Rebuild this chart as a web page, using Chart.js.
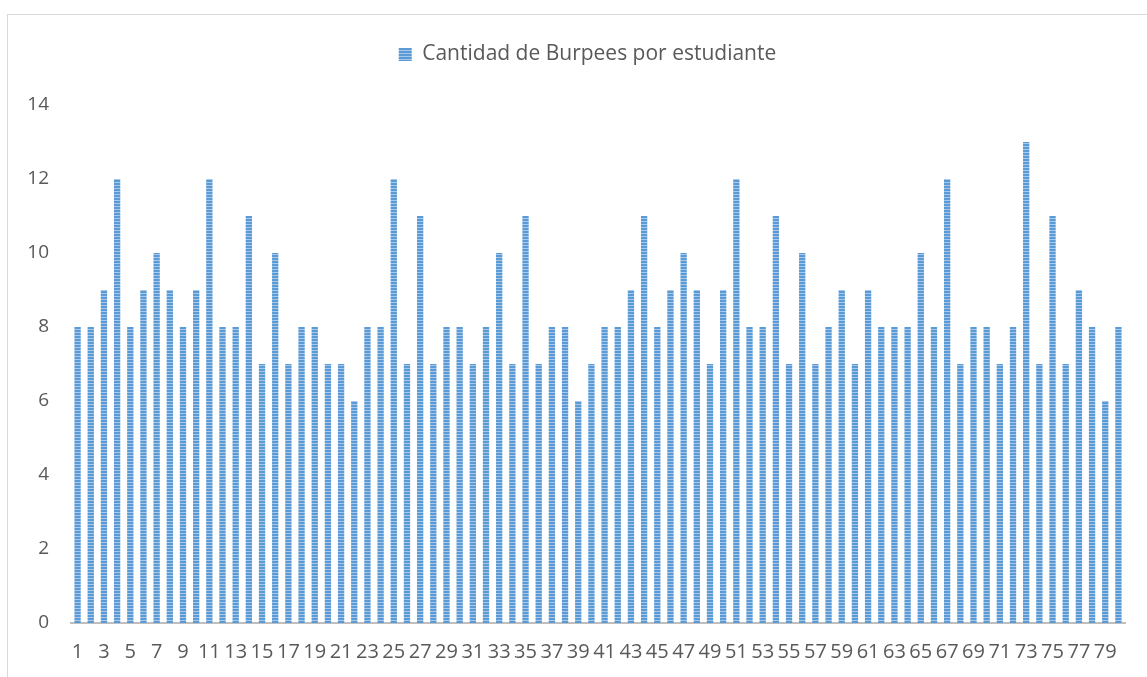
<!DOCTYPE html>
<html>
<head>
<meta charset="utf-8">
<script src="https://cdn.jsdelivr.net/npm/chart.js@4/dist/chart.umd.min.js"></script>
<style>
  html, body { margin: 0; padding: 0; background: #fff; }
  #wrap { position: absolute; left: 0; top: 0; width: 1147px; height: 677px; }
  #frame { position: absolute; left: 7px; top: 14px; width: 1145px; height: 680px; border: 1px solid #d9d9d9; box-sizing: border-box; }
  canvas { position: absolute; left: 0; top: 0; }
</style>
</head>
<body>
<div id="wrap">
  <div id="frame"></div>
  <canvas id="chart" width="1147" height="677"></canvas>
</div>
<script>
// students 1..80
var students = [];
for (var i = 1; i <= 80; i++) { students.push(String(i)); }

var burpees = [
  8, 8, 9, 12, 8, 9, 10, 9, 8, 9,
  12, 8, 8, 11, 7, 10, 7, 8, 8, 7,
  7, 6, 8, 8, 12, 7, 11, 7, 8, 8,
  7, 8, 10, 7, 11, 7, 8, 8, 6, 7,
  8, 8, 9, 11, 8, 9, 10, 9, 7, 9,
  12, 8, 8, 11, 7, 10, 7, 8, 9, 7,
  9, 8, 8, 8, 10, 8, 12, 7, 8, 8,
  7, 8, 13, 7, 11, 7, 9, 8, 6, 8
];

var seriesLabel = 'Cantidad de Burpees por estudiante';
var yTicks = [0, 2, 4, 6, 8, 10, 12, 14];

// Excel style striped fill
function stripes() {
  var c = document.createElement('canvas');
  c.width = 4; c.height = 3;
  var g = c.getContext('2d');
  g.fillStyle = '#5b9bd5';
  g.fillRect(0, 0, 4, 2);
  g.fillStyle = '#a7c8ea';
  g.fillRect(0, 2, 4, 1);
  return g.createPattern(c, 'repeat');
}

// Excel centres the legend a bit further right than the canvas middle
var legendShift = {
  id: 'legendShift',
  beforeDraw: function (chart) {
    if (chart.legend) { chart.legend.left = 50; }
  }
};

var ctx = document.getElementById('chart').getContext('2d');
var fill = stripes();
var FONT = "'Open Sans', 'Liberation Sans', sans-serif";

new Chart(ctx, {
  type: 'bar',
  data: {
    labels: students,
    datasets: [{
      label: seriesLabel,
      data: burpees,
      backgroundColor: fill,
      borderWidth: 0,
      barPercentage: 0.48,
      categoryPercentage: 1.0
    }]
  },
  plugins: [legendShift],
  options: {
    responsive: false,
    animation: false,
    layout: { padding: { top: 24, right: 22, bottom: 0, left: 0 } },
    plugins: {
      tooltip: { enabled: false },
      legend: {
        position: 'top',
        labels: {
          color: '#595959',
          font: { family: FONT, size: 21 },
          boxWidth: 13,
          boxHeight: 13,
          padding: 20
        }
      }
    },
    scales: {
      // empty spacer above the plot
      top: {
        type: 'category',
        position: 'top',
        display: true,
        grid: { display: false, drawTicks: false },
        border: { display: false },
        ticks: { display: false },
        afterFit: function (s) { s.height = 30; }
      },
      x: {
        position: 'bottom',
        afterFit: function (s) { s.height = 54; },
        grid: { display: false, drawTicks: false },
        border: { display: true, color: '#bfbfbf', width: 2 },
        ticks: {
          color: '#595959',
          font: { family: FONT, size: 20 },
          autoSkip: false,
          maxRotation: 0,
          padding: 17,
          callback: function (v, idx) { return idx % 2 === 0 ? students[idx] : ''; }
        }
      },
      y: {
        min: 0,
        max: 14,
        afterFit: function (s) { s.width = 71; },
        afterBuildTicks: function (s) { s.ticks = yTicks.map(function (v) { return { value: v }; }); },
        grid: { display: false, drawTicks: false },
        border: { display: false },
        ticks: {
          color: '#595959',
          font: { family: FONT, size: 19 },
          padding: 22
        }
      }
    }
  }
});
</script>
</body>
</html>
